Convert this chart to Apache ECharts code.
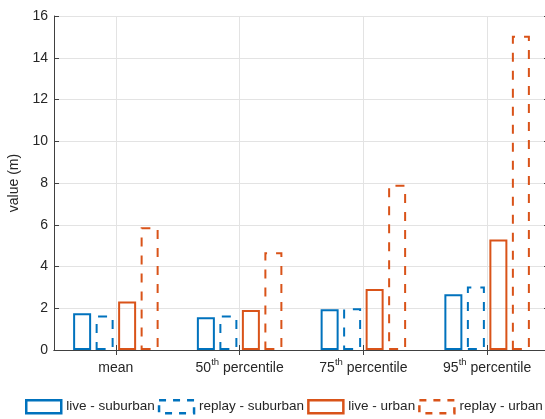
<!DOCTYPE html>
<html>
<head>
<meta charset="utf-8">
<script src="https://cdn.jsdelivr.net/npm/echarts@6/dist/echarts.min.js"></script>
<style>html,body{margin:0;padding:0;background:#fff;}#c{width:545px;height:419px;}</style>
</head>
<body>
<div id="c"></div>
<script>
var categories = ['mean', '50th percentile', '75th percentile', '95th percentile'];
var seriesNames = ['live - suburban', 'replay - suburban', 'live - urban', 'replay - urban'];
var liveSuburban = [1.76, 1.57, 1.95, 2.67];
var replaySuburban = [1.65, 1.65, 2.0, 3.04];
var liveUrban = [2.32, 1.92, 2.92, 5.29];
var replayUrban = [5.88, 4.68, 7.92, 15.05];

var BLUE = '#0072BD', ORANGE = '#D95319';
var DASH = [9, 9];
var seriesData = [liveSuburban, replaySuburban, liveUrban, replayUrban];
var colors = [BLUE, BLUE, ORANGE, ORANGE];
var dashed = [false, true, false, true];

var chart = echarts.init(document.getElementById('c'), null, {renderer: 'canvas'});
var font = 'Liberation Sans, Arial, Helvetica, sans-serif';
var txt = '#262626';

function fmt(v) {
  var m = v.match(/^(\d+)th(.*)$/);
  if (m) return '{n|' + m[1] + '}{sup|th}{n|' + m[2] + '}';
  return '{n|' + v + '}';
}

var series = seriesData.map(function (d, i) {
  return {
    name: seriesNames[i],
    type: 'bar',
    data: d,
    barWidth: 18,
    barGap: '25%',
    itemStyle: {
      color: 'rgba(0,0,0,0)',
      borderColor: colors[i],
      borderWidth: 2,
      borderType: dashed[i] ? DASH : 'solid'
    },
    emphasis: {disabled: true},
    animation: false
  };
});

chart.setOption({
  animation: false,
  textStyle: {fontFamily: font},
  grid: {left: 54, right: -4, top: 16, bottom: 69, containLabel: false, outerBoundsMode: 'none'},
  legend: {
    left: 25,
    top: 399,
    width: 600,
    padding: 0,
    itemWidth: 35,
    itemHeight: 13,
    itemGap: 3,
    selectedMode: false,
    textStyle: {fontSize: 13.5, color: txt, fontFamily: font},
    data: seriesNames.map(function (n, i) {
      return {
        name: n,
        icon: 'rect',
        itemStyle: {
          color: 'rgba(0,0,0,0)',
          borderColor: colors[i],
          borderWidth: 2.5,
          borderType: dashed[i] ? [7, 7] : 'solid'
        }
      };
    })
  },
  xAxis: [{
    type: 'category',
    data: categories,
    position: 'bottom',
    boundaryGap: true,
    axisLine: {show: true, onZero: false, lineStyle: {color: '#404040', width: 1}},
    axisTick: {show: true, inside: true, alignWithLabel: true, length: 5, lineStyle: {color: '#404040'}},
    splitLine: {show: true, alignWithLabel: true, lineStyle: {color: '#e3e3e3', width: 1}},
    axisLabel: {
      interval: 0,
      hideOverlap: false,
      color: txt, margin: 7, fontFamily: font,
      formatter: fmt,
      rich: {
        n: {fontSize: 14, color: txt, fontFamily: font, lineHeight: 18, verticalAlign: 'bottom'},
        sup: {fontSize: 9.5, color: txt, fontFamily: font, lineHeight: 18, verticalAlign: 'top'}
      }
    }
  }, {
    type: 'category',
    data: categories,
    position: 'top',
    boundaryGap: true,
    axisLine: {show: true, lineStyle: {color: '#404040', width: 1}},
    axisTick: {show: true, inside: true, alignWithLabel: true, length: 5, lineStyle: {color: '#404040'}},
    axisLabel: {show: false},
    splitLine: {show: false}
  }],
  yAxis: [{
    type: 'value',
    min: 0, max: 16, interval: 2,
    name: 'value (m)',
    nameLocation: 'middle',
    nameRotate: 90,
    nameGap: 31,
    nameTextStyle: {fontSize: 14, color: txt, fontFamily: font},
    axisLine: {show: true, lineStyle: {color: '#404040', width: 1}},
    axisTick: {show: true, inside: true, length: 5, lineStyle: {color: '#404040'}},
    splitLine: {show: true, lineStyle: {color: '#e3e3e3', width: 1}},
    axisLabel: {fontSize: 14, color: txt, margin: 6, fontFamily: font}
  }, {
    type: 'value',
    min: 0, max: 16, interval: 2,
    position: 'right',
    axisLine: {show: true, lineStyle: {color: '#404040', width: 1}},
    axisTick: {show: true, inside: true, length: 5, lineStyle: {color: '#404040'}},
    axisLabel: {show: false},
    splitLine: {show: false}
  }],
  series: series
});
</script>
</body>
</html>
